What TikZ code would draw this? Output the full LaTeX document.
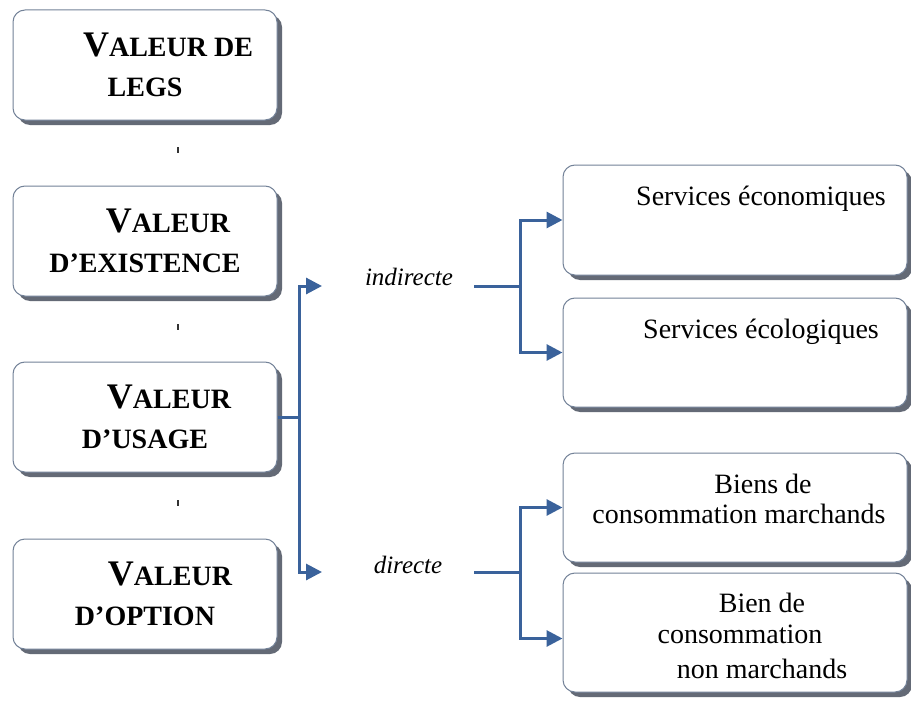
\documentclass[tikz,border=0pt]{standalone}
\usepackage{fontspec}
\setmainfont{Liberation Serif}
\usetikzlibrary{shadows,arrows.meta,calc}
\definecolor{connc}{RGB}{58,98,155}
\definecolor{bord}{RGB}{115,130,152}
\definecolor{shad}{RGB}{100,106,118}
\begin{document}
\begin{tikzpicture}[x=1pt,y=-1pt,
 vbox/.style={draw=bord, line width=1pt, rounded corners=12pt, fill=white,
   drop shadow={shadow xshift=5pt, shadow yshift=-5pt, fill=shad, opacity=1},
   minimum width=264pt, minimum height=110pt, inner sep=0pt, align=center,
   font=\fontsize{28}{40}\selectfont\bfseries},
 rbox/.style={draw=bord, line width=1pt, rounded corners=12pt, fill=white,
   drop shadow={shadow xshift=5pt, shadow yshift=-5pt, fill=shad, opacity=1},
   minimum width=344pt, inner sep=0pt},
 rtext/.style={anchor=base, font=\fontsize{28}{32}\selectfont, inner sep=0pt},
 lab/.style={anchor=base, font=\fontsize{25}{30}\selectfont\itshape, inner sep=0pt},
 conn/.style={draw=connc, line width=3pt},
 tip/.style={-{Triangle[length=16pt,width=16pt]}},
 tick/.style={line width=1.8pt, draw=black!80}]
\fill[white] (0,0) rectangle (911,701);
\useasboundingbox (0,0) rectangle (911,701);

% left boxes
\node[vbox] (b1) at (145,65) {\hspace*{46pt}{\fontsize{36}{40}\selectfont V}ALEUR DE\\LEGS};
\node[vbox] (b2) at (145,241) {\hspace*{46pt}{\fontsize{36}{40}\selectfont V}ALEUR\\D’EXISTENCE};
\node[vbox] (b3) at (145,417) {\hspace*{48pt}{\fontsize{36}{40}\selectfont V}ALEUR\\D’USAGE};
\node[vbox] (b4) at (145,594) {\hspace*{50pt}{\fontsize{36}{40}\selectfont V}ALEUR\\D’OPTION};

\draw[tick] (178,147) -- (178,153);
\draw[tick] (178,324) -- (178,330);
\draw[tick] (178,500) -- (178,506);

% right boxes
\node[rbox, minimum height=110pt] (r1) at (735,220) {};
\node[rbox, minimum height=109pt] (r2) at (735,352.5) {};
\node[rbox, minimum height=109pt] (r3) at (735,507.5) {};
\node[rbox, minimum height=119pt] (r4) at (735,632.5) {};

\node[rtext] (t1) at (761,205) {Services économiques};
\node[rtext] (t2) at (761,338) {Services écologiques};
\node[rtext] (t3a) at (763,493) {Biens de};
\node[rtext] (t3b) at (739,523) {consommation marchands};
\node[rtext] (t4a) at (762,612) {Bien de};
\node[rtext] (t4b) at (740,643) {consommation};
\node[rtext] (t4c) at (762,678) {non marchands};

% labels
\node[lab] (ind) at (409,285) {indirecte};
\node[lab] (dir) at (408,573) {directe};

% connectors
\coordinate (jl) at (299,417);
\coordinate (ai) at (322,286);
\coordinate (ad) at (322,572);
\draw[conn] (b3.east) -- (jl);
\draw[conn,tip] (jl) |- (ai);
\draw[conn,tip] (jl) |- (ad);

\coordinate (si) at (474,286);
\coordinate (ji) at (520,286);
\draw[conn] (si) -- (ji);
\draw[conn,tip] (ji) |- (r1.west);
\draw[conn,tip] (ji) |- (r2.west);

\coordinate (sd) at (474,572);
\coordinate (jd) at (520,572);
\draw[conn] (sd) -- (jd);
\draw[conn,tip] (jd) |- (r3.west);
\draw[conn,tip] (jd) |- ($(r4.west)+(0,6)$);
\end{tikzpicture}
\end{document}
